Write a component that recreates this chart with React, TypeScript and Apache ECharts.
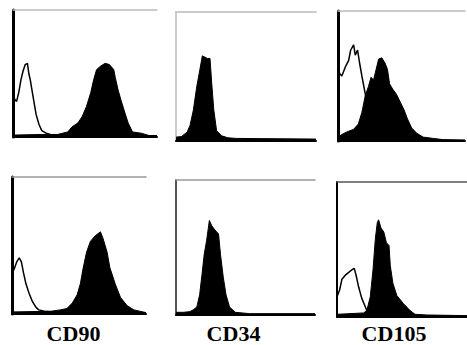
import React, { useEffect, useRef } from "react";
import * as echarts from "echarts";

// Marker labels (bottom row)
const markers = ["CD90", "CD34", "CD105"];

// Histogram data: [fluorescence (0-100 % of axis), count (0-100 % of axis)]
// Top row
const cd90TopControl: number[][] = [[0,45],[1,30],[2.5,28],[4,35],[5.5,45],[7,52],[8.5,57],[10,58],[11,50],[12,45],[13,38],[14.5,28],[16,18],[18,10],[20,5],[23,3],[26,2],[30,1.5],[40,1],[100,1]];
const cd90TopStained: number[][] = [[0,1.5],[20,2],[31,2],[38,4],[41,8],[45,11],[48,16],[51,24],[54,35],[56,45],[58,53],[61,56],[64,58],[67,57],[70,53],[71,47],[73,37],[75,29],[78,18],[80,11],[83,4],[89,3],[95,1],[100,0.5]];
const cd34TopStained: number[][] = [[0,3],[4,3.5],[8,7],[10,12],[12.4,24],[14.8,42],[17,55],[18.8,66],[20.7,65],[22.4,64],[24.3,64],[25.5,45],[27,24],[29,8],[32.6,4],[37,2.5],[43,2],[100,1.5]];
const cd105TopControl: number[][] = [[0,55],[1.3,52],[3,50],[5.8,57],[8.4,62],[10,70],[12.3,74],[13.6,66],[15.4,70],[17,60],[18.8,50],[21.5,36],[24,22],[26.7,10],[29,4],[33,2],[38,1],[100,0.5]];
const cd105TopStained: number[][] = [[0,3],[3,5],[7,7],[12.3,9],[16,13],[18.8,22],[21.5,35],[24,42],[26,49],[28,47],[30,55],[32,63],[34.5,64],[37,60],[39,55],[40.6,44],[43,40],[46,36],[49,30],[52,24],[54.7,17],[58,10],[62,6],[67,3],[75,2],[83,1],[100,0.5]];
// Bottom row
const cd90BotControl: number[][] = [[0,30],[1.7,33],[3.5,38],[5.4,41],[7,38],[8.6,30],[10.4,22],[12.8,15],[15.3,9],[17.8,5],[20,3],[24,2],[31,1.5],[100,1]];
const cd90BotStained: number[][] = [[0,1.5],[29,2],[36,3],[41,4],[45,8],[48.6,14],[51,22],[53,33],[55.6,45],[58.5,53],[62,57],[66,60],[68,55],[71,45],[73,34],[77,22],[81,12],[86,6],[91,3],[100,1]];
const cd34BotStained: number[][] = [[0,2],[5.5,2],[10,2.5],[12.7,4],[15,6],[17,15],[18.7,30],[20.3,45],[22,55],[24,70],[25.8,66],[28,63],[30.6,60],[32,45],[34,28],[36,15],[38.5,6],[42.6,2],[53,1],[100,1]];
const cd105BotControl: number[][] = [[0,15],[2,20],[3.8,28],[6.4,31],[9,33],[11.5,35],[13.3,36],[14.9,30],[16.7,22],[19,14],[22,7],[24,3],[28,2],[38,1],[100,0.5]];
const cd105BotStained: number[][] = [[0,2],[10,2.5],[20.5,3],[23,5],[25.6,15],[27.7,35],[29.5,58],[31,70],[32,72],[33.8,66],[36,63],[38,55],[40,53],[41,38],[43,25],[46,16],[51,10],[56,5],[60,2],[69,1.5],[100,1]];

const panels = [
  { rect: [13, 10, 144, 127], control: cd90TopControl, stained: cd90TopStained, leftColor: "#000", leftW: 3, topColor: "#bbb" },
  { rect: [176, 12, 140, 129], control: null, stained: cd34TopStained, leftColor: "#bbb", leftW: 1.5, topColor: "#bbb" },
  { rect: [338, 11, 127, 130], control: cd105TopControl, stained: cd105TopStained, leftColor: "#000", leftW: 3, topColor: "#bbb" },
  { rect: [12, 177, 134, 137], control: cd90BotControl, stained: cd90BotStained, leftColor: "#000", leftW: 3, topColor: "#999" },
  { rect: [176, 180, 139, 135], control: null, stained: cd34BotStained, leftColor: "#555", leftW: 2, topColor: "#999" },
  { rect: [337, 182, 130, 135], control: cd105BotControl, stained: cd105BotStained, leftColor: "#000", leftW: 2, topColor: "#555" },
];

const labelX = [73.5, 233.5, 394];

export default function App() {
  const ref = useRef<HTMLDivElement>(null);
  useEffect(() => {
    if (!ref.current) return;
    const chart = echarts.init(ref.current, null, { renderer: "svg" });
    const grid: any[] = [];
    const xAxis: any[] = [];
    const yAxis: any[] = [];
    const series: any[] = [];
    panels.forEach((p, i) => {
      const [l, t, w, h] = p.rect;
      grid.push({ left: l, top: t, width: w, height: h, containLabel: false });
      xAxis.push({
        type: "value", gridIndex: i, min: 0, max: 100, position: "bottom",
        axisLine: { show: true, onZero: false, lineStyle: { color: "#000", width: 2 } },
        axisTick: { show: false }, axisLabel: { show: false }, splitLine: { show: false },
      });
      xAxis.push({
        type: "value", gridIndex: i, min: 0, max: 100, position: "top",
        axisLine: { show: true, onZero: false, lineStyle: { color: p.topColor, width: 1.5 } },
        axisTick: { show: false }, axisLabel: { show: false }, splitLine: { show: false },
      });
      yAxis.push({
        type: "value", gridIndex: i, min: 0, max: 100,
        axisLine: { show: true, onZero: false, lineStyle: { color: p.leftColor, width: p.leftW } },
        axisTick: { show: false }, axisLabel: { show: false }, splitLine: { show: false },
      });
      if (p.control) {
        series.push({
          type: "line", xAxisIndex: i * 2, yAxisIndex: i, data: p.control,
          showSymbol: false, symbol: "none", smooth: false,
          lineStyle: { color: "#000", width: 1.5 }, z: 2,
        });
      }
      series.push({
        type: "line", xAxisIndex: i * 2, yAxisIndex: i, data: p.stained,
        showSymbol: false, symbol: "none", smooth: false,
        lineStyle: { color: "#000", width: 1 },
        areaStyle: { color: "#000", opacity: 1 }, z: 3,
      });
    });
    chart.setOption({
      animation: false,
      backgroundColor: "#fff",
      grid, xAxis, yAxis, series,
      graphic: markers.map((m, i) => ({
        type: "text",
        x: labelX[i],
        y: 333,
        style: {
          text: m,
          font: "bold 22px 'Liberation Serif', 'Times New Roman', serif",
          fill: "#000",
          align: "center",
          verticalAlign: "middle",
        },
      })),
    });
    return () => chart.dispose();
  }, []);
  return (
    <div
      ref={ref}
      style={{ position: "absolute", left: 0, top: 0, width: 467, height: 345 }}
    />
  );
}
